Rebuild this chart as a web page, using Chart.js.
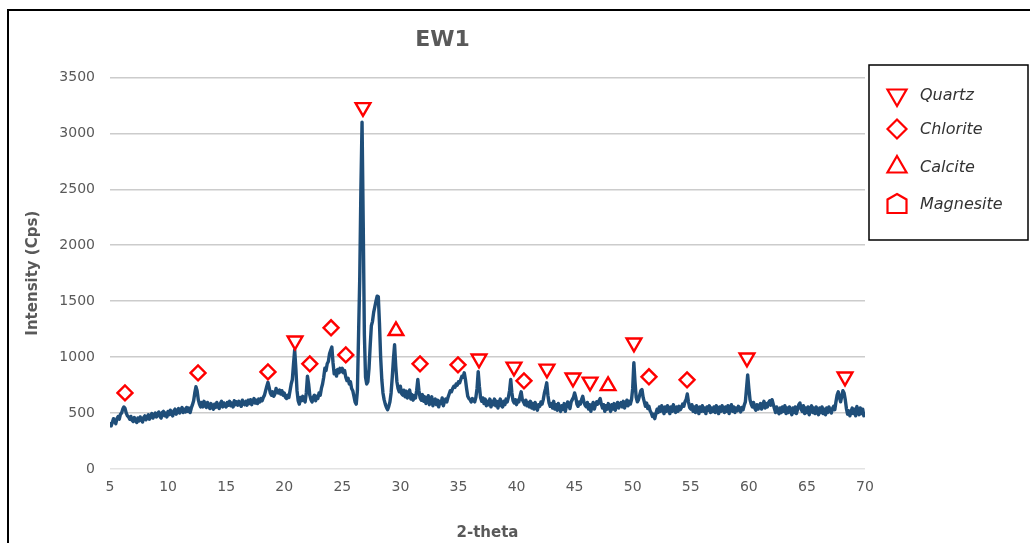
<!DOCTYPE html>
<html>
<head>
<meta charset="utf-8">
<script src="https://cdn.jsdelivr.net/npm/chart.js@4/dist/chart.umd.min.js"></script>
<style>
  html, body { margin: 0; padding: 0; background: #fff; }
  #wrap { position: relative; width: 1030px; height: 543px; }
</style>
</head>
<body>
<div id="wrap"><canvas id="c" width="1030" height="543"></canvas></div>
<script>
// XRD scan of sample EW1: 2-theta (degrees), one row per degree
const twoTheta = [
  5.0, 5.1, 5.2, 5.3, 5.4, 5.5, 5.6, 5.7, 5.8, 5.9,
  6.0, 6.1, 6.2, 6.3, 6.4, 6.5, 6.6, 6.7, 6.8, 6.9,
  7.0, 7.1, 7.2, 7.3, 7.4, 7.5, 7.6, 7.7, 7.8, 7.9,
  8.0, 8.1, 8.2, 8.3, 8.4, 8.5, 8.6, 8.7, 8.8, 8.9,
  9.0, 9.1, 9.2, 9.3, 9.4, 9.5, 9.6, 9.7, 9.8, 9.9,
  10.0, 10.1, 10.2, 10.3, 10.4, 10.5, 10.6, 10.7, 10.8, 10.9,
  11.0, 11.1, 11.2, 11.3, 11.4, 11.5, 11.6, 11.7, 11.8, 11.9,
  12.0, 12.1, 12.2, 12.3, 12.4, 12.5, 12.6, 12.7, 12.8, 12.9,
  13.0, 13.1, 13.2, 13.3, 13.4, 13.5, 13.6, 13.7, 13.8, 13.9,
  14.0, 14.1, 14.2, 14.3, 14.4, 14.5, 14.6, 14.7, 14.8, 14.9,
  15.0, 15.1, 15.2, 15.3, 15.4, 15.5, 15.6, 15.7, 15.8, 15.9,
  16.0, 16.1, 16.2, 16.3, 16.4, 16.5, 16.6, 16.7, 16.8, 16.9,
  17.0, 17.1, 17.2, 17.3, 17.4, 17.5, 17.6, 17.7, 17.8, 17.9,
  18.0, 18.1, 18.2, 18.3, 18.4, 18.5, 18.6, 18.7, 18.8, 18.9,
  19.0, 19.1, 19.2, 19.3, 19.4, 19.5, 19.6, 19.7, 19.8, 19.9,
  20.0, 20.1, 20.2, 20.3, 20.4, 20.5, 20.6, 20.7, 20.8, 20.9,
  21.0, 21.1, 21.2, 21.3, 21.4, 21.5, 21.6, 21.7, 21.8, 21.9,
  22.0, 22.1, 22.2, 22.3, 22.4, 22.5, 22.6, 22.7, 22.8, 22.9,
  23.0, 23.1, 23.2, 23.3, 23.4, 23.5, 23.6, 23.7, 23.8, 23.9,
  24.0, 24.1, 24.2, 24.3, 24.4, 24.5, 24.6, 24.7, 24.8, 24.9,
  25.0, 25.1, 25.2, 25.3, 25.4, 25.5, 25.6, 25.7, 25.8, 25.9,
  26.0, 26.1, 26.2, 26.3, 26.4, 26.5, 26.6, 26.7, 26.8, 26.9,
  27.0, 27.1, 27.2, 27.3, 27.4, 27.5, 27.6, 27.7, 27.8, 27.9,
  28.0, 28.1, 28.2, 28.3, 28.4, 28.5, 28.6, 28.7, 28.8, 28.9,
  29.0, 29.1, 29.2, 29.3, 29.4, 29.5, 29.6, 29.7, 29.8, 29.9,
  30.0, 30.1, 30.2, 30.3, 30.4, 30.5, 30.6, 30.7, 30.8, 30.9,
  31.0, 31.1, 31.2, 31.3, 31.4, 31.5, 31.6, 31.7, 31.8, 31.9,
  32.0, 32.1, 32.2, 32.3, 32.4, 32.5, 32.6, 32.7, 32.8, 32.9,
  33.0, 33.1, 33.2, 33.3, 33.4, 33.5, 33.6, 33.7, 33.8, 33.9,
  34.0, 34.1, 34.2, 34.3, 34.4, 34.5, 34.6, 34.7, 34.8, 34.9,
  35.0, 35.1, 35.2, 35.3, 35.4, 35.5, 35.6, 35.7, 35.8, 35.9,
  36.0, 36.1, 36.2, 36.3, 36.4, 36.5, 36.6, 36.7, 36.8, 36.9,
  37.0, 37.1, 37.2, 37.3, 37.4, 37.5, 37.6, 37.7, 37.8, 37.9,
  38.0, 38.1, 38.2, 38.3, 38.4, 38.5, 38.6, 38.7, 38.8, 38.9,
  39.0, 39.1, 39.2, 39.3, 39.4, 39.5, 39.6, 39.7, 39.8, 39.9,
  40.0, 40.1, 40.2, 40.3, 40.4, 40.5, 40.6, 40.7, 40.8, 40.9,
  41.0, 41.1, 41.2, 41.3, 41.4, 41.5, 41.6, 41.7, 41.8, 41.9,
  42.0, 42.1, 42.2, 42.3, 42.4, 42.5, 42.6, 42.7, 42.8, 42.9,
  43.0, 43.1, 43.2, 43.3, 43.4, 43.5, 43.6, 43.7, 43.8, 43.9,
  44.0, 44.1, 44.2, 44.3, 44.4, 44.5, 44.6, 44.7, 44.8, 44.9,
  45.0, 45.1, 45.2, 45.3, 45.4, 45.5, 45.6, 45.7, 45.8, 45.9,
  46.0, 46.1, 46.2, 46.3, 46.4, 46.5, 46.6, 46.7, 46.8, 46.9,
  47.0, 47.1, 47.2, 47.3, 47.4, 47.5, 47.6, 47.7, 47.8, 47.9,
  48.0, 48.1, 48.2, 48.3, 48.4, 48.5, 48.6, 48.7, 48.8, 48.9,
  49.0, 49.1, 49.2, 49.3, 49.4, 49.5, 49.6, 49.7, 49.8, 49.9,
  50.0, 50.1, 50.2, 50.3, 50.4, 50.5, 50.6, 50.7, 50.8, 50.9,
  51.0, 51.1, 51.2, 51.3, 51.4, 51.5, 51.6, 51.7, 51.8, 51.9,
  52.0, 52.1, 52.2, 52.3, 52.4, 52.5, 52.6, 52.7, 52.8, 52.9,
  53.0, 53.1, 53.2, 53.3, 53.4, 53.5, 53.6, 53.7, 53.8, 53.9,
  54.0, 54.1, 54.2, 54.3, 54.4, 54.5, 54.6, 54.7, 54.8, 54.9,
  55.0, 55.1, 55.2, 55.3, 55.4, 55.5, 55.6, 55.7, 55.8, 55.9,
  56.0, 56.1, 56.2, 56.3, 56.4, 56.5, 56.6, 56.7, 56.8, 56.9,
  57.0, 57.1, 57.2, 57.3, 57.4, 57.5, 57.6, 57.7, 57.8, 57.9,
  58.0, 58.1, 58.2, 58.3, 58.4, 58.5, 58.6, 58.7, 58.8, 58.9,
  59.0, 59.1, 59.2, 59.3, 59.4, 59.5, 59.6, 59.7, 59.8, 59.9,
  60.0, 60.1, 60.2, 60.3, 60.4, 60.5, 60.6, 60.7, 60.8, 60.9,
  61.0, 61.1, 61.2, 61.3, 61.4, 61.5, 61.6, 61.7, 61.8, 61.9,
  62.0, 62.1, 62.2, 62.3, 62.4, 62.5, 62.6, 62.7, 62.8, 62.9,
  63.0, 63.1, 63.2, 63.3, 63.4, 63.5, 63.6, 63.7, 63.8, 63.9,
  64.0, 64.1, 64.2, 64.3, 64.4, 64.5, 64.6, 64.7, 64.8, 64.9,
  65.0, 65.1, 65.2, 65.3, 65.4, 65.5, 65.6, 65.7, 65.8, 65.9,
  66.0, 66.1, 66.2, 66.3, 66.4, 66.5, 66.6, 66.7, 66.8, 66.9,
  67.0, 67.1, 67.2, 67.3, 67.4, 67.5, 67.6, 67.7, 67.8, 67.9,
  68.0, 68.1, 68.2, 68.3, 68.4, 68.5, 68.6, 68.7, 68.8, 68.9,
  69.0, 69.1, 69.2, 69.3, 69.4, 69.5, 69.6, 69.7, 69.8, 69.9,
  70.0
];

// Intensity (Cps) at each 2-theta step above
const intensity = [
  420, 385, 415, 450, 425, 405, 450, 470, 445, 490,
  500, 535, 555, 540, 500, 475, 465, 445, 470, 435,
  425, 460, 435, 415, 455, 430, 465, 440, 420, 460,
  475, 440, 465, 485, 445, 475, 495, 455, 480, 500,
  465, 495, 510, 470, 455, 505, 515, 475, 500, 465,
  515, 485, 525, 495, 475, 520, 535, 490, 515, 540,
  500, 530, 550, 505, 535, 510, 550, 515, 545, 505,
  545, 575, 610, 680, 735, 700, 620, 580, 555, 595,
  555, 605, 570, 550, 595, 565, 540, 585, 555, 535,
  580, 550, 595, 560, 540, 585, 605, 555, 590, 565,
  555, 595, 570, 605, 565, 590, 555, 610, 575, 600,
  570, 605, 580, 560, 615, 585, 575, 605, 570, 615,
  585, 620, 575, 605, 630, 590, 615, 585, 625, 600,
  630, 610, 640, 660, 700, 740, 775, 730, 680, 660,
  690, 650, 670, 720, 690, 680, 705, 670, 700, 660,
  680, 640, 630, 660, 640, 700, 760, 800, 940, 1065,
  900, 700, 610, 580, 640, 610, 650, 620, 600, 680,
  830, 760, 660, 620, 600, 640, 660, 610, 650, 630,
  680, 660, 720, 760, 820, 900, 880, 940, 960, 1030,
  1060, 1090, 950, 850, 880, 830, 890, 860, 900, 870,
  900, 860, 880, 820, 790, 810, 760, 780, 720, 700,
  650, 600, 580, 700, 1200, 1700, 2500, 3100, 2200, 1200,
  820, 760, 780, 900, 1100, 1280, 1320, 1400, 1450, 1500,
  1545, 1540, 1300, 1000, 800, 680, 620, 580, 550, 530,
  560, 600, 680, 820, 980, 1110, 920, 780, 720, 690,
  740, 675, 660, 705, 645, 695, 635, 675, 705, 625,
  665, 615, 655, 635, 700, 800, 700, 635, 615, 665,
  605, 645, 585, 625, 655, 575, 615, 645, 565, 605,
  625, 575, 615, 555, 605, 585, 635, 565, 605, 625,
  600, 640, 670, 700, 690, 720, 740, 730, 760, 750,
  780, 770, 800, 830, 820, 860, 800, 720, 650, 630,
  620, 600, 630, 610, 600, 640, 720, 870, 740, 640,
  605, 635, 585, 625, 565, 605, 575, 625, 555, 605,
  575, 625, 565, 605, 545, 595, 625, 565, 555, 605,
  575, 625, 600, 640, 700, 800, 680, 610, 590, 620,
  575, 615, 600, 650, 690, 620, 600, 575, 615, 565,
  595, 555, 605, 545, 585, 535, 595, 555, 525, 575,
  560, 600, 580, 620, 680, 720, 770, 660, 590, 560,
  585, 545, 605, 535, 575, 525, 585, 545, 515, 565,
  535, 585, 515, 565, 600, 570, 540, 600, 620, 640,
  680, 640, 580, 560, 600, 580, 620, 650, 600, 570,
  555, 595, 535, 575, 515, 565, 595, 535, 575, 600,
  580, 610, 630, 580, 545, 575, 515, 565, 535, 585,
  545, 515, 575, 535, 585, 525, 565, 595, 545, 575,
  595, 555, 605, 545, 585, 615, 565, 605, 580, 620,
  720, 950, 780, 640, 600, 620, 660, 700, 710, 640,
  600, 560, 590, 540, 560, 520, 500, 470, 490, 450,
  495, 535, 505, 555, 515, 565, 525, 495, 555, 515,
  565, 525, 495, 555, 515, 575, 535, 505, 555, 515,
  560, 530, 550, 580, 560, 600, 620, 670, 600, 550,
  535, 575, 515, 555, 505, 565, 525, 495, 555, 515,
  565, 515, 545, 495, 555, 525, 565, 505, 545, 515,
  555, 505, 565, 525, 495, 555, 515, 565, 525, 505,
  555, 515, 565, 495, 545, 575, 515, 555, 505, 545,
  520, 560, 540, 510, 550, 530, 570, 600, 720, 840,
  720, 620, 580, 555, 595, 545, 525, 575, 535, 565,
  585, 535, 575, 605, 545, 585, 555, 595, 610, 570,
  620, 580, 540, 505, 555, 515, 495, 545, 505, 555,
  515, 565, 495, 545, 505, 555, 515, 485, 545, 505,
  555, 495, 535, 575, 590, 535, 515, 565, 495, 545,
  505, 555, 485, 535, 565, 505, 545, 495, 555, 515,
  485, 545, 505, 555, 495, 535, 485, 545, 505, 555,
  520, 500, 540, 560, 530, 600, 660, 690, 640, 600,
  650, 700, 680, 620, 540, 490, 520, 475, 515, 545,
  495, 535, 475, 560, 515, 485, 545, 495, 535, 475,
  500
];

// Phase identification marks placed above the peaks
const quartzAngles = [20.93, 26.78, 36.77, 39.78, 42.62, 44.86, 46.33, 50.11, 59.84, 68.28];
const quartzLevels = [1146, 3232, 985, 913, 895, 815, 779, 1128, 994, 824];
const chloriteAngles = [6.29, 12.58, 18.6, 22.2, 24.03, 25.3, 31.69, 34.96, 40.64, 51.4, 54.68];
const chloriteLevels = [680, 859, 868, 940, 1262, 1020, 940, 931, 788, 824, 797];
const calciteAngles = [29.62, 47.88];
const calciteLevels = [1235, 743];
const magnesiteAngles = [];
const magnesiteLevels = [];

// Axis ticks
const xTicks = [5, 10, 15, 20, 25, 30, 35, 40, 45, 50, 55, 60, 65, 70];
const yTicks = [0, 500, 1000, 1500, 2000, 2500, 3000, 3500];

const pairs = (xs, ys) => xs.map((x, i) => ({ x: x, y: ys[i] }));

const RED = '#ff0000';
const TEXT = '#595959';

function markerSet(label, xs, ys, style, rotation, radius) {
  return {
    label: label,
    data: pairs(xs, ys),
    showLine: false,
    pointStyle: style,
    rotation: rotation,
    pointRadius: radius,
    pointHoverRadius: radius,
    pointBorderColor: RED,
    pointBackgroundColor: '#ffffff',
    pointBorderWidth: 2.4,
    borderColor: RED,
    backgroundColor: '#ffffff',
    order: 1
  };
}

// Legend shapes drawn on the canvas
function drawShape(ctx, kind, x, y) {
  ctx.beginPath();
  if (kind === 'down') {
    const r = 11;
    ctx.moveTo(x, y + r);
    ctx.lineTo(x - r * 0.866, y - r / 2);
    ctx.lineTo(x + r * 0.866, y - r / 2);
  } else if (kind === 'diamond') {
    const r = 9.5;
    ctx.moveTo(x - r, y);
    ctx.lineTo(x, y - r);
    ctx.lineTo(x + r, y);
    ctx.lineTo(x, y + r);
  } else if (kind === 'up') {
    const r = 11;
    ctx.moveTo(x, y - r);
    ctx.lineTo(x + r * 0.866, y + r / 2);
    ctx.lineTo(x - r * 0.866, y + r / 2);
  } else {
    ctx.moveTo(x, y - 10);
    ctx.lineTo(x + 9.5, y - 4.5);
    ctx.lineTo(x + 9.5, y + 9);
    ctx.lineTo(x - 9.5, y + 9);
    ctx.lineTo(x - 9.5, y - 4.5);
  }
  ctx.closePath();
  ctx.fillStyle = '#ffffff';
  ctx.fill();
  ctx.strokeStyle = RED;
  ctx.lineWidth = 2.2;
  ctx.stroke();
}

const pageFrame = {
  id: 'pageFrame',
  beforeDraw(chart) {
    const ctx = chart.ctx;
    ctx.save();
    ctx.fillStyle = '#ffffff';
    ctx.fillRect(0, 0, chart.width, chart.height);
    ctx.restore();
  },
  afterDraw(chart) {
    const ctx = chart.ctx;
    ctx.save();
    ctx.strokeStyle = '#000000';
    ctx.lineWidth = 2;
    ctx.beginPath();
    ctx.moveTo(8, chart.height + 2);
    ctx.lineTo(8, 10);
    ctx.lineTo(chart.width + 2, 10);
    ctx.stroke();
    ctx.restore();
  }
};

const mineralLegend = {
  id: 'mineralLegend',
  afterDraw(chart) {
    const ctx = chart.ctx;
    ctx.save();
    ctx.strokeStyle = '#000000';
    ctx.lineWidth = 1.5;
    ctx.strokeRect(869, 65, 159, 175);
    const rows = [95, 129, 167, 204];
    const sets = chart.data.datasets.filter(d => d.legendShape !== undefined);
    sets.forEach((d, i) => {
      drawShape(ctx, d.legendShape, 897, rows[i]);
      ctx.fillStyle = '#333333';
      ctx.font = 'italic 16px "DejaVu Sans"';
      ctx.textAlign = 'left';
      ctx.textBaseline = 'middle';
      ctx.fillText(d.label, 920, rows[i] + 1);
    });
    ctx.restore();
  }
};

const trace = {
  label: 'EW1',
  data: pairs(twoTheta, intensity),
  showLine: true,
  borderColor: '#1f4e79',
  borderWidth: 3.4,
  borderJoinStyle: 'round',
  pointRadius: 0,
  pointHoverRadius: 0,
  tension: 0,
  order: 2
};

const quartz = markerSet('Quartz', quartzAngles, quartzLevels, 'triangle', 180, 8.5);
quartz.legendShape = 'down';
const chlorite = markerSet('Chlorite', chloriteAngles, chloriteLevels, 'rectRot', 0, 7.5);
chlorite.legendShape = 'diamond';
const calcite = markerSet('Calcite', calciteAngles, calciteLevels, 'triangle', 0, 8.5);
calcite.legendShape = 'up';
const magnesite = markerSet('Magnesite', magnesiteAngles, magnesiteLevels, 'rect', 0, 8);
magnesite.legendShape = 'pentagon';

new Chart(document.getElementById('c'), {
  type: 'scatter',
  data: { datasets: [trace, quartz, chlorite, calcite, magnesite] },
  plugins: [pageFrame, mineralLegend],
  options: {
    responsive: false,
    devicePixelRatio: 1,
    animation: false,
    events: [],
    layout: { padding: { left: 20, right: 165, top: 0, bottom: 0 } },
    plugins: {
      legend: { display: false },
      tooltip: { enabled: false },
      title: {
        display: true,
        text: 'EW1',
        color: TEXT,
        font: { family: '"DejaVu Sans"', size: 22, weight: 'bold' },
        padding: { top: 27, bottom: 24 }
      }
    },
    scales: {
      x: {
        type: 'linear',
        min: 5,
        max: 70,
        afterBuildTicks: (s) => { s.ticks = xTicks.map(v => ({ value: v })); },
        afterFit: (s) => { s.height = 74; },
        grid: { display: false, drawTicks: false },
        border: { display: false },
        ticks: {
          color: TEXT,
          padding: 10,
          maxRotation: 0,
          callback: (v) => String(v),
          font: { family: '"DejaVu Sans"', size: 14 }
        },
        title: {
          display: true,
          text: '2-theta',
          color: TEXT,
          font: { family: '"DejaVu Sans"', size: 15, weight: 'bold' },
          padding: { top: 0, bottom: 1 }
        }
      },
      y: {
        type: 'linear',
        min: 0,
        max: 3500,
        afterBuildTicks: (s) => { s.ticks = yTicks.map(v => ({ value: v })); },
        afterFit: (s) => { s.width = 90; },
        grid: {
          drawTicks: false,
          lineWidth: 1.5,
          color: (c) => (c.tick && c.tick.value === 0 ? '#e3e3e3' : '#cccccc')
        },
        border: { display: false },
        ticks: {
          color: TEXT,
          padding: 15,
          callback: (v) => String(v),
          font: { family: '"DejaVu Sans"', size: 14 }
        },
        title: {
          display: true,
          text: 'Intensity (Cps)',
          color: TEXT,
          font: { family: '"DejaVu Sans"', size: 15, weight: 'bold' },
          padding: { top: 4, bottom: 4 }
        }
      }
    }
  }
});
</script>
</body>
</html>
